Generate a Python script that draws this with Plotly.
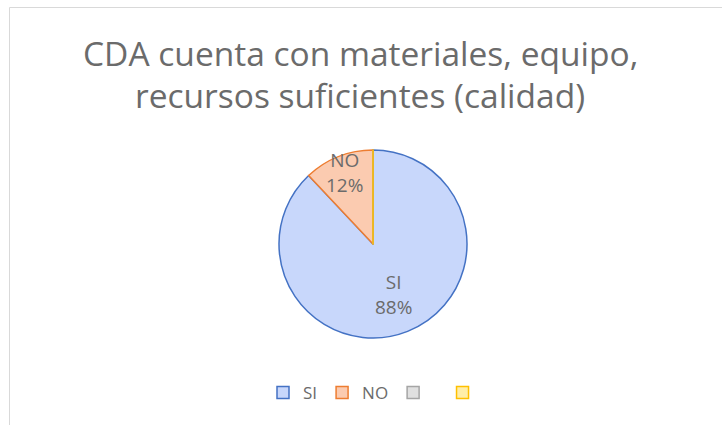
import math
import plotly.graph_objects as go

labels = ["SI", "NO", " ", "  "]
values = [88, 12, 0, 0]
fill_colors = ["#c8d7fb", "#fbcbb0", "#e0e0e0", "#ffeea8"]
line_colors = ["#4472c4", "#ed7d31", "#a5a5a5", "#ffc000"]
title_lines = ["CDA cuenta con materiales, equipo,", "recursos suficientes (calidad)"]
label_radius = [0.58, 0.82, 0.5, 0.5]  # relative radius of each data label (Excel best fit)

W, H = 722, 425
cx, cy, r = 373, 244, 94
FONT = "Open Sans"
TXT = "#6b6b6b"

fig = go.Figure(go.Pie(
    labels=labels,
    values=values,
    sort=False,
    direction="clockwise",
    rotation=0,
    marker=dict(colors=fill_colors, line=dict(color=line_colors, width=1.5)),
    textinfo="none",
    hoverinfo="label+percent",
    domain=dict(x=[(cx - r) / W, (cx + r) / W], y=[1 - (cy + r) / H, 1 - (cy - r) / H]),
    showlegend=True,
))

# data labels at each slice's mid-angle (computed from the values)
total = sum(values)
start = 0.0
annotations = []
for lab, v, f in zip(labels, values, label_radius):
    frac = v / total
    mid = (start + frac / 2) * 2 * math.pi  # clockwise from 12 o'clock
    start += frac
    if v == 0:
        continue
    px = cx + f * r * math.sin(mid)
    py = cy - f * r * math.cos(mid)
    annotations.append(dict(
        x=px / W, y=1 - py / H, xref="paper", yref="paper",
        text=f"{lab.strip()}<br>{round(frac * 100)}%", showarrow=False,
        font=dict(family=FONT, size=19, color=TXT), xanchor="center", yanchor="middle",
    ))

title_mid_y = [53, 95]
for line, ty in zip(title_lines, title_mid_y):
    annotations.append(dict(
        x=360 / W, y=1 - ty / H, xref="paper", yref="paper", text=line, showarrow=False,
        font=dict(family=FONT, size=33.5, color=TXT), xanchor="center", yanchor="middle",
    ))

fig.update_layout(
    width=W, height=H,
    margin=dict(l=0, r=0, t=0, b=0),
    paper_bgcolor="white",
    annotations=annotations,
    legend=dict(orientation="h", x=380 / W, xanchor="center", y=1 - 393 / H, yanchor="middle",
                font=dict(family=FONT, size=17, color=TXT), itemwidth=30,
                traceorder="normal"),
    shapes=[dict(type="rect", xref="paper", yref="paper", x0=9.5 / W, x1=1.5, y0=-0.5, y1=1 - 7.5 / H,
                 line=dict(color="#d9d9d9", width=1), fillcolor="rgba(0,0,0,0)", layer="below")],
)

fig.write_html("out.html", config={"displayModeBar": False},
               post_script="document.body.style.margin='0px';")
